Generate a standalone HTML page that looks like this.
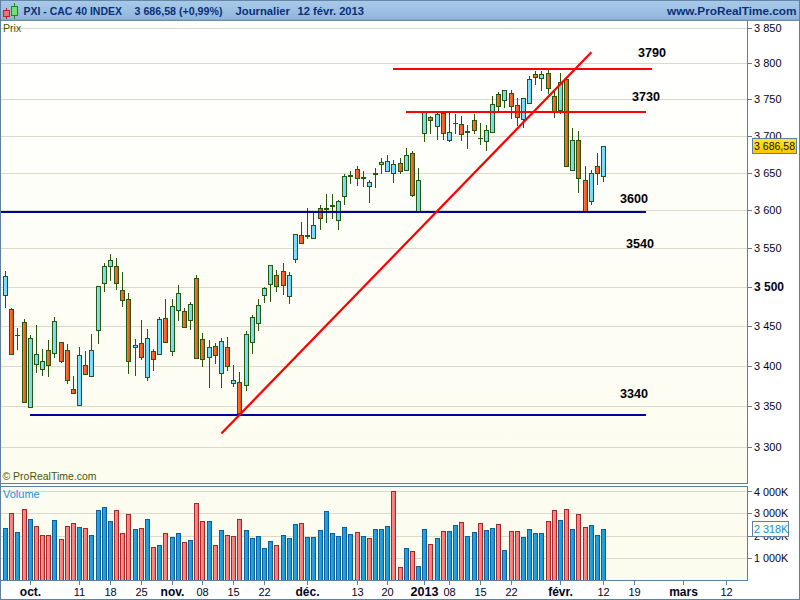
<!DOCTYPE html>
<html><head><meta charset="utf-8"><title>PXI - CAC 40 INDEX</title>
<style>html,body{margin:0;padding:0;background:#fff;overflow:hidden}svg{display:block}</style>
</head><body>
<svg width="800" height="600" viewBox="0 0 800 600" font-family="'Liberation Sans', sans-serif">
<defs>
<linearGradient id="hd" x1="0" y1="0" x2="0" y2="1"><stop offset="0" stop-color="#a9cbea"/><stop offset="0.5" stop-color="#9cc0e2"/><stop offset="1" stop-color="#8db3d8"/></linearGradient>
<linearGradient id="bg" x1="0" y1="0" x2="0" y2="1"><stop offset="0" stop-color="#ffffff"/><stop offset="1" stop-color="#fcfcef"/></linearGradient>
<linearGradient id="vbg" x1="0" y1="0" x2="0" y2="1"><stop offset="0" stop-color="#fcfcf1"/><stop offset="1" stop-color="#fcfcee"/></linearGradient>
<linearGradient id="yl" x1="0" y1="0" x2="0" y2="1"><stop offset="0" stop-color="#ffe630"/><stop offset="1" stop-color="#ffc400"/></linearGradient>
<linearGradient id="rd" x1="0" y1="0" x2="1" y2="0"><stop offset="0" stop-color="#ff7a3e"/><stop offset="1" stop-color="#e64a18"/></linearGradient>
<linearGradient id="bl" x1="0" y1="0" x2="1" y2="0"><stop offset="0" stop-color="#84e2ff"/><stop offset="1" stop-color="#6cd6f6"/></linearGradient>
<linearGradient id="vb" x1="0" y1="0" x2="1" y2="0"><stop offset="0" stop-color="#2aa8e6"/><stop offset="1" stop-color="#1496dc"/></linearGradient>
<linearGradient id="vr" x1="0" y1="0" x2="1" y2="0"><stop offset="0" stop-color="#ff8e8e"/><stop offset="1" stop-color="#f47474"/></linearGradient>
</defs>
<rect width="800" height="600" fill="#ffffff"/>
<g shape-rendering="crispEdges">
<rect x="0" y="0" width="800" height="21" fill="url(#hd)"/>
<rect x="0" y="0" width="800" height="1" fill="#6688a8"/>
<rect x="0" y="19" width="800" height="1" fill="#84a9cf"/>
<rect x="0" y="20" width="800" height="1" fill="#6a8cb0"/>
<rect x="1" y="21" width="746" height="462" fill="url(#bg)"/>
<rect x="1" y="487" width="746" height="93" fill="url(#vbg)"/>
<rect x="1" y="28" width="746" height="1" fill="#dadacb"/>
<rect x="1" y="63" width="746" height="1" fill="#dadacb"/>
<rect x="1" y="99" width="746" height="1" fill="#dadacb"/>
<rect x="1" y="136" width="746" height="1" fill="#dadacb"/>
<rect x="1" y="173" width="746" height="1" fill="#dadacb"/>
<rect x="1" y="210" width="746" height="1" fill="#dadacb"/>
<rect x="1" y="248" width="746" height="1" fill="#dadacb"/>
<rect x="1" y="287" width="746" height="1" fill="#dadacb"/>
<rect x="1" y="326" width="746" height="1" fill="#dadacb"/>
<rect x="1" y="366" width="746" height="1" fill="#dadacb"/>
<rect x="1" y="406" width="746" height="1" fill="#dadacb"/>
<rect x="1" y="447" width="746" height="1" fill="#dadacb"/>
<rect x="1" y="491" width="746" height="1" fill="#dadacb"/>
<rect x="1" y="513" width="746" height="1" fill="#dadacb"/>
<rect x="1" y="536" width="746" height="1" fill="#dadacb"/>
<rect x="1" y="558" width="746" height="1" fill="#dadacb"/>
</g>
<g shape-rendering="crispEdges">
<rect x="5" y="271" width="1" height="37" fill="#25570d"/>
<rect x="3" y="276" width="5" height="20" fill="#25570d"/>
<rect x="4" y="277" width="3" height="18" fill="url(#bl)"/>
<rect x="11" y="308" width="1" height="47" fill="#25570d"/>
<rect x="9" y="309" width="5" height="46" fill="#25570d"/>
<rect x="10" y="310" width="3" height="44" fill="url(#rd)"/>
<rect x="17" y="328" width="1" height="22" fill="#25570d"/>
<rect x="15" y="335" width="5" height="1" fill="#25570d"/>
<rect x="24" y="319" width="1" height="84" fill="#25570d"/>
<rect x="22" y="322" width="5" height="81" fill="#25570d"/>
<rect x="23" y="323" width="3" height="79" fill="url(#rd)"/>
<rect x="30" y="335" width="1" height="73" fill="#25570d"/>
<rect x="28" y="338" width="5" height="70" fill="#25570d"/>
<rect x="29" y="339" width="3" height="68" fill="url(#bl)"/>
<rect x="36" y="325" width="1" height="48" fill="#25570d"/>
<rect x="34" y="354" width="5" height="11" fill="#25570d"/>
<rect x="35" y="355" width="3" height="9" fill="url(#bl)"/>
<rect x="42" y="349" width="1" height="27" fill="#25570d"/>
<rect x="40" y="361" width="5" height="9" fill="#25570d"/>
<rect x="41" y="362" width="3" height="7" fill="url(#bl)"/>
<rect x="48" y="340" width="1" height="37" fill="#25570d"/>
<rect x="46" y="350" width="5" height="16" fill="#25570d"/>
<rect x="47" y="351" width="3" height="14" fill="url(#rd)"/>
<rect x="54" y="317" width="1" height="41" fill="#25570d"/>
<rect x="52" y="321" width="5" height="33" fill="#25570d"/>
<rect x="53" y="322" width="3" height="31" fill="url(#bl)"/>
<rect x="61" y="342" width="1" height="21" fill="#25570d"/>
<rect x="59" y="342" width="5" height="20" fill="#25570d"/>
<rect x="60" y="343" width="3" height="18" fill="url(#rd)"/>
<rect x="67" y="344" width="1" height="40" fill="#25570d"/>
<rect x="65" y="350" width="5" height="31" fill="#25570d"/>
<rect x="66" y="351" width="3" height="29" fill="url(#rd)"/>
<rect x="73" y="376" width="1" height="18" fill="#25570d"/>
<rect x="71" y="389" width="5" height="5" fill="#25570d"/>
<rect x="72" y="390" width="3" height="3" fill="url(#rd)"/>
<rect x="79" y="347" width="1" height="59" fill="#25570d"/>
<rect x="77" y="355" width="5" height="51" fill="#25570d"/>
<rect x="78" y="356" width="3" height="49" fill="url(#bl)"/>
<rect x="85" y="351" width="1" height="24" fill="#25570d"/>
<rect x="83" y="365" width="5" height="10" fill="#25570d"/>
<rect x="84" y="366" width="3" height="8" fill="url(#rd)"/>
<rect x="91" y="334" width="1" height="43" fill="#25570d"/>
<rect x="89" y="350" width="5" height="27" fill="#25570d"/>
<rect x="90" y="351" width="3" height="25" fill="url(#bl)"/>
<rect x="98" y="286" width="1" height="58" fill="#25570d"/>
<rect x="96" y="286" width="5" height="45" fill="#25570d"/>
<rect x="97" y="287" width="3" height="43" fill="url(#bl)"/>
<rect x="104" y="263" width="1" height="29" fill="#25570d"/>
<rect x="102" y="266" width="5" height="18" fill="#25570d"/>
<rect x="103" y="267" width="3" height="16" fill="url(#bl)"/>
<rect x="110" y="254" width="1" height="27" fill="#25570d"/>
<rect x="108" y="260" width="5" height="7" fill="#25570d"/>
<rect x="109" y="261" width="3" height="5" fill="url(#bl)"/>
<rect x="116" y="258" width="1" height="32" fill="#25570d"/>
<rect x="114" y="266" width="5" height="18" fill="#25570d"/>
<rect x="115" y="267" width="3" height="16" fill="url(#rd)"/>
<rect x="122" y="272" width="1" height="35" fill="#25570d"/>
<rect x="120" y="290" width="5" height="11" fill="#25570d"/>
<rect x="121" y="291" width="3" height="9" fill="url(#rd)"/>
<rect x="128" y="293" width="1" height="81" fill="#25570d"/>
<rect x="126" y="299" width="5" height="63" fill="#25570d"/>
<rect x="127" y="300" width="3" height="61" fill="url(#rd)"/>
<rect x="135" y="339" width="1" height="37" fill="#25570d"/>
<rect x="133" y="345" width="5" height="3" fill="#25570d"/>
<rect x="134" y="346" width="3" height="1" fill="url(#bl)"/>
<rect x="141" y="320" width="1" height="40" fill="#25570d"/>
<rect x="139" y="343" width="5" height="15" fill="#25570d"/>
<rect x="140" y="344" width="3" height="13" fill="url(#rd)"/>
<rect x="147" y="329" width="1" height="52" fill="#25570d"/>
<rect x="145" y="338" width="5" height="40" fill="#25570d"/>
<rect x="146" y="339" width="3" height="38" fill="url(#bl)"/>
<rect x="153" y="349" width="1" height="22" fill="#25570d"/>
<rect x="151" y="351" width="5" height="9" fill="#25570d"/>
<rect x="152" y="352" width="3" height="7" fill="url(#rd)"/>
<rect x="159" y="317" width="1" height="38" fill="#25570d"/>
<rect x="157" y="319" width="5" height="36" fill="#25570d"/>
<rect x="158" y="320" width="3" height="34" fill="url(#bl)"/>
<rect x="165" y="299" width="1" height="44" fill="#25570d"/>
<rect x="163" y="318" width="5" height="25" fill="#25570d"/>
<rect x="164" y="319" width="3" height="23" fill="url(#rd)"/>
<rect x="172" y="299" width="1" height="57" fill="#25570d"/>
<rect x="170" y="306" width="5" height="46" fill="#25570d"/>
<rect x="171" y="307" width="3" height="44" fill="url(#bl)"/>
<rect x="178" y="285" width="1" height="36" fill="#25570d"/>
<rect x="176" y="293" width="5" height="18" fill="#25570d"/>
<rect x="177" y="294" width="3" height="16" fill="url(#bl)"/>
<rect x="184" y="308" width="1" height="20" fill="#25570d"/>
<rect x="182" y="311" width="5" height="17" fill="#25570d"/>
<rect x="183" y="312" width="3" height="15" fill="url(#rd)"/>
<rect x="190" y="302" width="1" height="28" fill="#25570d"/>
<rect x="188" y="304" width="5" height="17" fill="#25570d"/>
<rect x="189" y="305" width="3" height="15" fill="url(#bl)"/>
<rect x="196" y="275" width="1" height="84" fill="#25570d"/>
<rect x="194" y="278" width="5" height="81" fill="#25570d"/>
<rect x="195" y="279" width="3" height="79" fill="url(#rd)"/>
<rect x="202" y="333" width="1" height="34" fill="#25570d"/>
<rect x="200" y="339" width="5" height="21" fill="#25570d"/>
<rect x="201" y="340" width="3" height="19" fill="url(#rd)"/>
<rect x="209" y="340" width="1" height="48" fill="#25570d"/>
<rect x="207" y="347" width="5" height="11" fill="#25570d"/>
<rect x="208" y="348" width="3" height="9" fill="url(#bl)"/>
<rect x="215" y="343" width="1" height="21" fill="#25570d"/>
<rect x="213" y="346" width="5" height="10" fill="#25570d"/>
<rect x="214" y="347" width="3" height="8" fill="url(#rd)"/>
<rect x="221" y="338" width="1" height="50" fill="#25570d"/>
<rect x="219" y="341" width="5" height="33" fill="#25570d"/>
<rect x="220" y="342" width="3" height="31" fill="url(#bl)"/>
<rect x="227" y="337" width="1" height="34" fill="#25570d"/>
<rect x="225" y="347" width="5" height="20" fill="#25570d"/>
<rect x="226" y="348" width="3" height="18" fill="url(#rd)"/>
<rect x="233" y="365" width="1" height="22" fill="#25570d"/>
<rect x="231" y="380" width="5" height="4" fill="#25570d"/>
<rect x="232" y="381" width="3" height="2" fill="url(#bl)"/>
<rect x="239" y="372" width="1" height="42" fill="#25570d"/>
<rect x="237" y="382" width="5" height="32" fill="#25570d"/>
<rect x="238" y="383" width="3" height="30" fill="url(#rd)"/>
<rect x="246" y="331" width="1" height="60" fill="#25570d"/>
<rect x="244" y="334" width="5" height="52" fill="#25570d"/>
<rect x="245" y="335" width="3" height="50" fill="url(#bl)"/>
<rect x="252" y="315" width="1" height="39" fill="#25570d"/>
<rect x="250" y="317" width="5" height="26" fill="#25570d"/>
<rect x="251" y="318" width="3" height="24" fill="url(#bl)"/>
<rect x="258" y="299" width="1" height="32" fill="#25570d"/>
<rect x="256" y="305" width="5" height="19" fill="#25570d"/>
<rect x="257" y="306" width="3" height="17" fill="url(#bl)"/>
<rect x="264" y="287" width="1" height="16" fill="#25570d"/>
<rect x="262" y="288" width="5" height="8" fill="#25570d"/>
<rect x="263" y="289" width="3" height="6" fill="url(#bl)"/>
<rect x="270" y="265" width="1" height="37" fill="#25570d"/>
<rect x="268" y="265" width="5" height="20" fill="#25570d"/>
<rect x="269" y="266" width="3" height="18" fill="url(#bl)"/>
<rect x="276" y="270" width="1" height="22" fill="#25570d"/>
<rect x="274" y="275" width="5" height="12" fill="#25570d"/>
<rect x="275" y="276" width="3" height="10" fill="url(#rd)"/>
<rect x="283" y="263" width="1" height="32" fill="#25570d"/>
<rect x="281" y="271" width="5" height="15" fill="#25570d"/>
<rect x="282" y="272" width="3" height="13" fill="url(#rd)"/>
<rect x="289" y="272" width="1" height="32" fill="#25570d"/>
<rect x="287" y="275" width="5" height="22" fill="#25570d"/>
<rect x="288" y="276" width="3" height="20" fill="url(#bl)"/>
<rect x="295" y="234" width="1" height="29" fill="#25570d"/>
<rect x="293" y="234" width="5" height="26" fill="#25570d"/>
<rect x="294" y="235" width="3" height="24" fill="url(#bl)"/>
<rect x="301" y="222" width="1" height="22" fill="#25570d"/>
<rect x="299" y="235" width="5" height="9" fill="#25570d"/>
<rect x="300" y="236" width="3" height="7" fill="url(#rd)"/>
<rect x="307" y="208" width="1" height="31" fill="#25570d"/>
<rect x="305" y="235" width="5" height="2" fill="#25570d"/>
<rect x="313" y="212" width="1" height="27" fill="#25570d"/>
<rect x="311" y="225" width="5" height="14" fill="#25570d"/>
<rect x="312" y="226" width="3" height="12" fill="url(#bl)"/>
<rect x="320" y="205" width="1" height="25" fill="#25570d"/>
<rect x="318" y="208" width="5" height="11" fill="#25570d"/>
<rect x="319" y="209" width="3" height="9" fill="url(#rd)"/>
<rect x="326" y="194" width="1" height="29" fill="#25570d"/>
<rect x="324" y="208" width="5" height="2" fill="#25570d"/>
<rect x="332" y="194" width="1" height="25" fill="#25570d"/>
<rect x="330" y="205" width="5" height="2" fill="#25570d"/>
<rect x="338" y="200" width="1" height="30" fill="#25570d"/>
<rect x="336" y="201" width="5" height="20" fill="#25570d"/>
<rect x="337" y="202" width="3" height="18" fill="url(#bl)"/>
<rect x="344" y="174" width="1" height="31" fill="#25570d"/>
<rect x="342" y="176" width="5" height="21" fill="#25570d"/>
<rect x="343" y="177" width="3" height="19" fill="url(#bl)"/>
<rect x="350" y="171" width="1" height="13" fill="#25570d"/>
<rect x="348" y="175" width="5" height="2" fill="#25570d"/>
<rect x="357" y="166" width="1" height="20" fill="#25570d"/>
<rect x="355" y="169" width="5" height="10" fill="#25570d"/>
<rect x="356" y="170" width="3" height="8" fill="url(#rd)"/>
<rect x="363" y="171" width="1" height="16" fill="#25570d"/>
<rect x="361" y="177" width="5" height="2" fill="#25570d"/>
<rect x="369" y="180" width="1" height="23" fill="#25570d"/>
<rect x="367" y="182" width="5" height="5" fill="#25570d"/>
<rect x="368" y="183" width="3" height="3" fill="url(#bl)"/>
<rect x="375" y="168" width="1" height="20" fill="#25570d"/>
<rect x="373" y="173" width="5" height="2" fill="#25570d"/>
<rect x="381" y="158" width="1" height="16" fill="#25570d"/>
<rect x="379" y="162" width="5" height="3" fill="#25570d"/>
<rect x="380" y="163" width="3" height="1" fill="url(#bl)"/>
<rect x="387" y="155" width="1" height="17" fill="#25570d"/>
<rect x="385" y="161" width="5" height="11" fill="#25570d"/>
<rect x="386" y="162" width="3" height="9" fill="url(#bl)"/>
<rect x="393" y="160" width="1" height="23" fill="#25570d"/>
<rect x="391" y="164" width="5" height="10" fill="#25570d"/>
<rect x="392" y="165" width="3" height="8" fill="url(#bl)"/>
<rect x="400" y="158" width="1" height="16" fill="#25570d"/>
<rect x="398" y="163" width="5" height="9" fill="#25570d"/>
<rect x="399" y="164" width="3" height="7" fill="url(#rd)"/>
<rect x="406" y="148" width="1" height="23" fill="#25570d"/>
<rect x="404" y="155" width="5" height="16" fill="#25570d"/>
<rect x="405" y="156" width="3" height="14" fill="url(#bl)"/>
<rect x="412" y="151" width="1" height="46" fill="#25570d"/>
<rect x="410" y="153" width="5" height="43" fill="#25570d"/>
<rect x="411" y="154" width="3" height="41" fill="url(#rd)"/>
<rect x="418" y="168" width="1" height="44" fill="#25570d"/>
<rect x="416" y="180" width="5" height="32" fill="#25570d"/>
<rect x="417" y="181" width="3" height="30" fill="url(#bl)"/>
<rect x="424" y="111" width="1" height="31" fill="#25570d"/>
<rect x="422" y="111" width="5" height="23" fill="#25570d"/>
<rect x="423" y="112" width="3" height="21" fill="url(#bl)"/>
<rect x="430" y="116" width="1" height="18" fill="#25570d"/>
<rect x="428" y="117" width="5" height="4" fill="#25570d"/>
<rect x="429" y="118" width="3" height="2" fill="url(#rd)"/>
<rect x="437" y="113" width="1" height="27" fill="#25570d"/>
<rect x="435" y="114" width="5" height="13" fill="#25570d"/>
<rect x="436" y="115" width="3" height="11" fill="url(#bl)"/>
<rect x="443" y="113" width="1" height="27" fill="#25570d"/>
<rect x="441" y="113" width="5" height="21" fill="#25570d"/>
<rect x="442" y="114" width="3" height="19" fill="url(#rd)"/>
<rect x="449" y="113" width="1" height="29" fill="#25570d"/>
<rect x="447" y="132" width="5" height="9" fill="#25570d"/>
<rect x="448" y="133" width="3" height="7" fill="url(#bl)"/>
<rect x="455" y="114" width="1" height="20" fill="#25570d"/>
<rect x="453" y="123" width="5" height="1" fill="#25570d"/>
<rect x="461" y="116" width="1" height="25" fill="#25570d"/>
<rect x="459" y="124" width="5" height="11" fill="#25570d"/>
<rect x="460" y="125" width="3" height="9" fill="url(#rd)"/>
<rect x="467" y="125" width="1" height="24" fill="#25570d"/>
<rect x="465" y="131" width="5" height="2" fill="#25570d"/>
<rect x="474" y="114" width="1" height="20" fill="#25570d"/>
<rect x="472" y="120" width="5" height="11" fill="#25570d"/>
<rect x="473" y="121" width="3" height="9" fill="url(#rd)"/>
<rect x="480" y="123" width="1" height="22" fill="#25570d"/>
<rect x="478" y="138" width="5" height="1" fill="#25570d"/>
<rect x="486" y="125" width="1" height="26" fill="#25570d"/>
<rect x="484" y="130" width="5" height="12" fill="#25570d"/>
<rect x="485" y="131" width="3" height="10" fill="url(#bl)"/>
<rect x="492" y="96" width="1" height="37" fill="#25570d"/>
<rect x="490" y="104" width="5" height="29" fill="#25570d"/>
<rect x="491" y="105" width="3" height="27" fill="url(#bl)"/>
<rect x="498" y="92" width="1" height="19" fill="#25570d"/>
<rect x="496" y="94" width="5" height="13" fill="#25570d"/>
<rect x="497" y="95" width="3" height="11" fill="url(#rd)"/>
<rect x="504" y="90" width="1" height="18" fill="#25570d"/>
<rect x="502" y="90" width="5" height="11" fill="#25570d"/>
<rect x="503" y="91" width="3" height="9" fill="url(#bl)"/>
<rect x="511" y="90" width="1" height="29" fill="#25570d"/>
<rect x="509" y="93" width="5" height="14" fill="#25570d"/>
<rect x="510" y="94" width="3" height="12" fill="url(#rd)"/>
<rect x="517" y="98" width="1" height="28" fill="#25570d"/>
<rect x="515" y="105" width="5" height="13" fill="#25570d"/>
<rect x="516" y="106" width="3" height="11" fill="url(#rd)"/>
<rect x="523" y="98" width="1" height="30" fill="#25570d"/>
<rect x="521" y="98" width="5" height="22" fill="#25570d"/>
<rect x="522" y="99" width="3" height="20" fill="url(#bl)"/>
<rect x="529" y="76" width="1" height="28" fill="#25570d"/>
<rect x="527" y="79" width="5" height="25" fill="#25570d"/>
<rect x="528" y="80" width="3" height="23" fill="url(#bl)"/>
<rect x="535" y="71" width="1" height="14" fill="#25570d"/>
<rect x="533" y="74" width="5" height="4" fill="#25570d"/>
<rect x="534" y="75" width="3" height="2" fill="url(#rd)"/>
<rect x="541" y="71" width="1" height="20" fill="#25570d"/>
<rect x="539" y="74" width="5" height="5" fill="#25570d"/>
<rect x="540" y="75" width="3" height="3" fill="url(#bl)"/>
<rect x="548" y="70" width="1" height="24" fill="#25570d"/>
<rect x="546" y="73" width="5" height="16" fill="#25570d"/>
<rect x="547" y="74" width="3" height="14" fill="url(#rd)"/>
<rect x="554" y="91" width="1" height="27" fill="#25570d"/>
<rect x="552" y="96" width="5" height="16" fill="#25570d"/>
<rect x="553" y="97" width="3" height="14" fill="url(#rd)"/>
<rect x="560" y="73" width="1" height="41" fill="#25570d"/>
<rect x="558" y="82" width="5" height="29" fill="#25570d"/>
<rect x="559" y="83" width="3" height="27" fill="url(#bl)"/>
<rect x="566" y="79" width="1" height="88" fill="#25570d"/>
<rect x="564" y="79" width="5" height="88" fill="#25570d"/>
<rect x="565" y="80" width="3" height="86" fill="url(#rd)"/>
<rect x="572" y="128" width="1" height="43" fill="#25570d"/>
<rect x="570" y="140" width="5" height="31" fill="#25570d"/>
<rect x="571" y="141" width="3" height="29" fill="url(#bl)"/>
<rect x="578" y="131" width="1" height="62" fill="#25570d"/>
<rect x="576" y="140" width="5" height="39" fill="#25570d"/>
<rect x="577" y="141" width="3" height="37" fill="url(#rd)"/>
<rect x="585" y="166" width="1" height="46" fill="#25570d"/>
<rect x="583" y="180" width="5" height="32" fill="#25570d"/>
<rect x="584" y="181" width="3" height="30" fill="url(#rd)"/>
<rect x="591" y="170" width="1" height="35" fill="#25570d"/>
<rect x="589" y="173" width="5" height="29" fill="#25570d"/>
<rect x="590" y="174" width="3" height="27" fill="url(#bl)"/>
<rect x="597" y="153" width="1" height="32" fill="#25570d"/>
<rect x="595" y="166" width="5" height="8" fill="#25570d"/>
<rect x="596" y="167" width="3" height="6" fill="url(#rd)"/>
<rect x="603" y="146" width="1" height="36" fill="#25570d"/>
<rect x="601" y="146" width="5" height="31" fill="#25570d"/>
<rect x="602" y="147" width="3" height="29" fill="url(#bl)"/>
<rect x="3" y="528" width="5" height="52" fill="#0d5f96"/>
<rect x="4" y="529" width="3" height="51" fill="url(#vb)"/>
<rect x="9" y="513" width="5" height="67" fill="#a32828"/>
<rect x="10" y="514" width="3" height="66" fill="url(#vr)"/>
<rect x="15" y="532" width="5" height="48" fill="#0d5f96"/>
<rect x="16" y="533" width="3" height="47" fill="url(#vb)"/>
<rect x="22" y="509" width="5" height="71" fill="#a32828"/>
<rect x="23" y="510" width="3" height="70" fill="url(#vr)"/>
<rect x="28" y="519" width="5" height="61" fill="#0d5f96"/>
<rect x="29" y="520" width="3" height="60" fill="url(#vb)"/>
<rect x="34" y="526" width="5" height="54" fill="#a32828"/>
<rect x="35" y="527" width="3" height="53" fill="url(#vr)"/>
<rect x="40" y="535" width="5" height="45" fill="#a32828"/>
<rect x="41" y="536" width="3" height="44" fill="url(#vr)"/>
<rect x="46" y="535" width="5" height="45" fill="#a32828"/>
<rect x="47" y="536" width="3" height="44" fill="url(#vr)"/>
<rect x="52" y="520" width="5" height="60" fill="#0d5f96"/>
<rect x="53" y="521" width="3" height="59" fill="url(#vb)"/>
<rect x="59" y="539" width="5" height="41" fill="#a32828"/>
<rect x="60" y="540" width="3" height="40" fill="url(#vr)"/>
<rect x="65" y="526" width="5" height="54" fill="#a32828"/>
<rect x="66" y="527" width="3" height="53" fill="url(#vr)"/>
<rect x="71" y="523" width="5" height="57" fill="#a32828"/>
<rect x="72" y="524" width="3" height="56" fill="url(#vr)"/>
<rect x="77" y="527" width="5" height="53" fill="#0d5f96"/>
<rect x="78" y="528" width="3" height="52" fill="url(#vb)"/>
<rect x="83" y="528" width="5" height="52" fill="#a32828"/>
<rect x="84" y="529" width="3" height="51" fill="url(#vr)"/>
<rect x="89" y="535" width="5" height="45" fill="#0d5f96"/>
<rect x="90" y="536" width="3" height="44" fill="url(#vb)"/>
<rect x="96" y="510" width="5" height="70" fill="#0d5f96"/>
<rect x="97" y="511" width="3" height="69" fill="url(#vb)"/>
<rect x="102" y="507" width="5" height="73" fill="#0d5f96"/>
<rect x="103" y="508" width="3" height="72" fill="url(#vb)"/>
<rect x="108" y="521" width="5" height="59" fill="#0d5f96"/>
<rect x="109" y="522" width="3" height="58" fill="url(#vb)"/>
<rect x="114" y="510" width="5" height="70" fill="#a32828"/>
<rect x="115" y="511" width="3" height="69" fill="url(#vr)"/>
<rect x="120" y="533" width="5" height="47" fill="#a32828"/>
<rect x="121" y="534" width="3" height="46" fill="url(#vr)"/>
<rect x="126" y="514" width="5" height="66" fill="#a32828"/>
<rect x="127" y="515" width="3" height="65" fill="url(#vr)"/>
<rect x="133" y="529" width="5" height="51" fill="#0d5f96"/>
<rect x="134" y="530" width="3" height="50" fill="url(#vb)"/>
<rect x="139" y="528" width="5" height="52" fill="#a32828"/>
<rect x="140" y="529" width="3" height="51" fill="url(#vr)"/>
<rect x="145" y="519" width="5" height="61" fill="#0d5f96"/>
<rect x="146" y="520" width="3" height="60" fill="url(#vb)"/>
<rect x="151" y="547" width="5" height="33" fill="#a32828"/>
<rect x="152" y="548" width="3" height="32" fill="url(#vr)"/>
<rect x="157" y="545" width="5" height="35" fill="#0d5f96"/>
<rect x="158" y="546" width="3" height="34" fill="url(#vb)"/>
<rect x="163" y="533" width="5" height="47" fill="#a32828"/>
<rect x="164" y="534" width="3" height="46" fill="url(#vr)"/>
<rect x="170" y="537" width="5" height="43" fill="#0d5f96"/>
<rect x="171" y="538" width="3" height="42" fill="url(#vb)"/>
<rect x="176" y="533" width="5" height="47" fill="#0d5f96"/>
<rect x="177" y="534" width="3" height="46" fill="url(#vb)"/>
<rect x="182" y="542" width="5" height="38" fill="#a32828"/>
<rect x="183" y="543" width="3" height="37" fill="url(#vr)"/>
<rect x="188" y="540" width="5" height="40" fill="#0d5f96"/>
<rect x="189" y="541" width="3" height="39" fill="url(#vb)"/>
<rect x="194" y="503" width="5" height="77" fill="#a32828"/>
<rect x="195" y="504" width="3" height="76" fill="url(#vr)"/>
<rect x="200" y="521" width="5" height="59" fill="#a32828"/>
<rect x="201" y="522" width="3" height="58" fill="url(#vr)"/>
<rect x="207" y="521" width="5" height="59" fill="#0d5f96"/>
<rect x="208" y="522" width="3" height="58" fill="url(#vb)"/>
<rect x="213" y="545" width="5" height="35" fill="#a32828"/>
<rect x="214" y="546" width="3" height="34" fill="url(#vr)"/>
<rect x="219" y="530" width="5" height="50" fill="#0d5f96"/>
<rect x="220" y="531" width="3" height="49" fill="url(#vb)"/>
<rect x="225" y="535" width="5" height="45" fill="#a32828"/>
<rect x="226" y="536" width="3" height="44" fill="url(#vr)"/>
<rect x="231" y="536" width="5" height="44" fill="#a32828"/>
<rect x="232" y="537" width="3" height="43" fill="url(#vr)"/>
<rect x="237" y="519" width="5" height="61" fill="#a32828"/>
<rect x="238" y="520" width="3" height="60" fill="url(#vr)"/>
<rect x="244" y="530" width="5" height="50" fill="#0d5f96"/>
<rect x="245" y="531" width="3" height="49" fill="url(#vb)"/>
<rect x="250" y="538" width="5" height="42" fill="#0d5f96"/>
<rect x="251" y="539" width="3" height="41" fill="url(#vb)"/>
<rect x="256" y="536" width="5" height="44" fill="#0d5f96"/>
<rect x="257" y="537" width="3" height="43" fill="url(#vb)"/>
<rect x="262" y="548" width="5" height="32" fill="#0d5f96"/>
<rect x="263" y="549" width="3" height="31" fill="url(#vb)"/>
<rect x="268" y="541" width="5" height="39" fill="#0d5f96"/>
<rect x="269" y="542" width="3" height="38" fill="url(#vb)"/>
<rect x="274" y="545" width="5" height="35" fill="#a32828"/>
<rect x="275" y="546" width="3" height="34" fill="url(#vr)"/>
<rect x="281" y="535" width="5" height="45" fill="#0d5f96"/>
<rect x="282" y="536" width="3" height="44" fill="url(#vb)"/>
<rect x="287" y="538" width="5" height="42" fill="#0d5f96"/>
<rect x="288" y="539" width="3" height="41" fill="url(#vb)"/>
<rect x="293" y="524" width="5" height="56" fill="#0d5f96"/>
<rect x="294" y="525" width="3" height="55" fill="url(#vb)"/>
<rect x="299" y="523" width="5" height="57" fill="#a32828"/>
<rect x="300" y="524" width="3" height="56" fill="url(#vr)"/>
<rect x="305" y="537" width="5" height="43" fill="#0d5f96"/>
<rect x="306" y="538" width="3" height="42" fill="url(#vb)"/>
<rect x="311" y="537" width="5" height="43" fill="#0d5f96"/>
<rect x="312" y="538" width="3" height="42" fill="url(#vb)"/>
<rect x="318" y="530" width="5" height="50" fill="#0d5f96"/>
<rect x="319" y="531" width="3" height="49" fill="url(#vb)"/>
<rect x="324" y="511" width="5" height="69" fill="#0d5f96"/>
<rect x="325" y="512" width="3" height="68" fill="url(#vb)"/>
<rect x="330" y="533" width="5" height="47" fill="#0d5f96"/>
<rect x="331" y="534" width="3" height="46" fill="url(#vb)"/>
<rect x="336" y="536" width="5" height="44" fill="#0d5f96"/>
<rect x="337" y="537" width="3" height="43" fill="url(#vb)"/>
<rect x="342" y="527" width="5" height="53" fill="#0d5f96"/>
<rect x="343" y="528" width="3" height="52" fill="url(#vb)"/>
<rect x="348" y="534" width="5" height="46" fill="#0d5f96"/>
<rect x="349" y="535" width="3" height="45" fill="url(#vb)"/>
<rect x="355" y="532" width="5" height="48" fill="#a32828"/>
<rect x="356" y="533" width="3" height="47" fill="url(#vr)"/>
<rect x="361" y="536" width="5" height="44" fill="#0d5f96"/>
<rect x="362" y="537" width="3" height="43" fill="url(#vb)"/>
<rect x="367" y="538" width="5" height="42" fill="#a32828"/>
<rect x="368" y="539" width="3" height="41" fill="url(#vr)"/>
<rect x="373" y="529" width="5" height="51" fill="#0d5f96"/>
<rect x="374" y="530" width="3" height="50" fill="url(#vb)"/>
<rect x="379" y="529" width="5" height="51" fill="#0d5f96"/>
<rect x="380" y="530" width="3" height="50" fill="url(#vb)"/>
<rect x="385" y="526" width="5" height="54" fill="#0d5f96"/>
<rect x="386" y="527" width="3" height="53" fill="url(#vb)"/>
<rect x="391" y="491" width="5" height="89" fill="#a32828"/>
<rect x="392" y="492" width="3" height="88" fill="url(#vr)"/>
<rect x="398" y="567" width="5" height="13" fill="#a32828"/>
<rect x="399" y="568" width="3" height="12" fill="url(#vr)"/>
<rect x="404" y="548" width="5" height="32" fill="#0d5f96"/>
<rect x="405" y="549" width="3" height="31" fill="url(#vb)"/>
<rect x="410" y="551" width="5" height="29" fill="#a32828"/>
<rect x="411" y="552" width="3" height="28" fill="url(#vr)"/>
<rect x="416" y="566" width="5" height="14" fill="#0d5f96"/>
<rect x="417" y="567" width="3" height="13" fill="url(#vb)"/>
<rect x="422" y="529" width="5" height="51" fill="#0d5f96"/>
<rect x="423" y="530" width="3" height="50" fill="url(#vb)"/>
<rect x="428" y="544" width="5" height="36" fill="#a32828"/>
<rect x="429" y="545" width="3" height="35" fill="url(#vr)"/>
<rect x="435" y="538" width="5" height="42" fill="#0d5f96"/>
<rect x="436" y="539" width="3" height="41" fill="url(#vb)"/>
<rect x="441" y="531" width="5" height="49" fill="#a32828"/>
<rect x="442" y="532" width="3" height="48" fill="url(#vr)"/>
<rect x="447" y="531" width="5" height="49" fill="#0d5f96"/>
<rect x="448" y="532" width="3" height="48" fill="url(#vb)"/>
<rect x="453" y="525" width="5" height="55" fill="#0d5f96"/>
<rect x="454" y="526" width="3" height="54" fill="url(#vb)"/>
<rect x="459" y="522" width="5" height="58" fill="#a32828"/>
<rect x="460" y="523" width="3" height="57" fill="url(#vr)"/>
<rect x="465" y="536" width="5" height="44" fill="#0d5f96"/>
<rect x="466" y="537" width="3" height="43" fill="url(#vb)"/>
<rect x="472" y="532" width="5" height="48" fill="#0d5f96"/>
<rect x="473" y="533" width="3" height="47" fill="url(#vb)"/>
<rect x="478" y="523" width="5" height="57" fill="#a32828"/>
<rect x="479" y="524" width="3" height="56" fill="url(#vr)"/>
<rect x="484" y="530" width="5" height="50" fill="#0d5f96"/>
<rect x="485" y="531" width="3" height="49" fill="url(#vb)"/>
<rect x="490" y="528" width="5" height="52" fill="#0d5f96"/>
<rect x="491" y="529" width="3" height="51" fill="url(#vb)"/>
<rect x="496" y="524" width="5" height="56" fill="#a32828"/>
<rect x="497" y="525" width="3" height="55" fill="url(#vr)"/>
<rect x="502" y="550" width="5" height="30" fill="#0d5f96"/>
<rect x="503" y="551" width="3" height="29" fill="url(#vb)"/>
<rect x="509" y="531" width="5" height="49" fill="#a32828"/>
<rect x="510" y="532" width="3" height="48" fill="url(#vr)"/>
<rect x="515" y="531" width="5" height="49" fill="#a32828"/>
<rect x="516" y="532" width="3" height="48" fill="url(#vr)"/>
<rect x="521" y="537" width="5" height="43" fill="#0d5f96"/>
<rect x="522" y="538" width="3" height="42" fill="url(#vb)"/>
<rect x="527" y="529" width="5" height="51" fill="#0d5f96"/>
<rect x="528" y="530" width="3" height="50" fill="url(#vb)"/>
<rect x="533" y="533" width="5" height="47" fill="#0d5f96"/>
<rect x="534" y="534" width="3" height="46" fill="url(#vb)"/>
<rect x="539" y="533" width="5" height="47" fill="#0d5f96"/>
<rect x="540" y="534" width="3" height="46" fill="url(#vb)"/>
<rect x="546" y="521" width="5" height="59" fill="#a32828"/>
<rect x="547" y="522" width="3" height="58" fill="url(#vr)"/>
<rect x="552" y="510" width="5" height="70" fill="#a32828"/>
<rect x="553" y="511" width="3" height="69" fill="url(#vr)"/>
<rect x="558" y="520" width="5" height="60" fill="#0d5f96"/>
<rect x="559" y="521" width="3" height="59" fill="url(#vb)"/>
<rect x="564" y="509" width="5" height="71" fill="#a32828"/>
<rect x="565" y="510" width="3" height="70" fill="url(#vr)"/>
<rect x="570" y="529" width="5" height="51" fill="#0d5f96"/>
<rect x="571" y="530" width="3" height="50" fill="url(#vb)"/>
<rect x="576" y="514" width="5" height="66" fill="#a32828"/>
<rect x="577" y="515" width="3" height="65" fill="url(#vr)"/>
<rect x="583" y="527" width="5" height="53" fill="#a32828"/>
<rect x="584" y="528" width="3" height="52" fill="url(#vr)"/>
<rect x="589" y="525" width="5" height="55" fill="#0d5f96"/>
<rect x="590" y="526" width="3" height="54" fill="url(#vb)"/>
<rect x="595" y="535" width="5" height="45" fill="#0d5f96"/>
<rect x="596" y="536" width="3" height="44" fill="url(#vb)"/>
<rect x="601" y="529" width="5" height="51" fill="#0d5f96"/>
<rect x="602" y="530" width="3" height="50" fill="url(#vb)"/>
</g>
<g shape-rendering="crispEdges">
<rect x="393" y="68" width="259" height="2" fill="#ff0000"/>
<rect x="406" y="111" width="240" height="2" fill="#ff0000"/>
<rect x="1" y="211" width="645" height="2" fill="#00009c"/>
<rect x="30" y="414" width="616" height="2" fill="#00009c"/>
</g>
<line x1="221.4" y1="433.5" x2="591.4" y2="52.2" stroke="#ff0000" stroke-width="2.2"/>
<g shape-rendering="crispEdges">
<rect x="0" y="0" width="1" height="600" fill="#5f7f9f"/>
<rect x="1" y="483" width="747" height="1" fill="#5f7f9f"/>
<rect x="1" y="486" width="747" height="1" fill="#5f7f9f"/>
<rect x="1" y="580" width="747" height="1" fill="#5f7f9f"/>
<rect x="747" y="21" width="1" height="463" fill="#5f7f9f"/>
<rect x="747" y="486" width="1" height="95" fill="#5f7f9f"/>
<rect x="0" y="599" width="800" height="1" fill="#5f7f9f"/>
<rect x="799" y="0" width="1" height="600" fill="#5f7f9f"/>
<rect x="748" y="28" width="4" height="1" fill="#5f7f9f"/>
<rect x="748" y="63" width="4" height="1" fill="#5f7f9f"/>
<rect x="748" y="99" width="4" height="1" fill="#5f7f9f"/>
<rect x="748" y="136" width="4" height="1" fill="#5f7f9f"/>
<rect x="748" y="173" width="4" height="1" fill="#5f7f9f"/>
<rect x="748" y="210" width="4" height="1" fill="#5f7f9f"/>
<rect x="748" y="248" width="4" height="1" fill="#5f7f9f"/>
<rect x="748" y="287" width="4" height="1" fill="#5f7f9f"/>
<rect x="748" y="326" width="4" height="1" fill="#5f7f9f"/>
<rect x="748" y="366" width="4" height="1" fill="#5f7f9f"/>
<rect x="748" y="406" width="4" height="1" fill="#5f7f9f"/>
<rect x="748" y="447" width="4" height="1" fill="#5f7f9f"/>
<rect x="748" y="491" width="4" height="1" fill="#5f7f9f"/>
<rect x="748" y="513" width="4" height="1" fill="#5f7f9f"/>
<rect x="748" y="536" width="4" height="1" fill="#5f7f9f"/>
<rect x="748" y="558" width="4" height="1" fill="#5f7f9f"/>
<rect x="30" y="581" width="1" height="4" fill="#5f7f9f"/>
<rect x="79" y="581" width="1" height="4" fill="#5f7f9f"/>
<rect x="110" y="581" width="1" height="4" fill="#5f7f9f"/>
<rect x="141" y="581" width="1" height="4" fill="#5f7f9f"/>
<rect x="172" y="581" width="1" height="4" fill="#5f7f9f"/>
<rect x="202" y="581" width="1" height="4" fill="#5f7f9f"/>
<rect x="233" y="581" width="1" height="4" fill="#5f7f9f"/>
<rect x="264" y="581" width="1" height="4" fill="#5f7f9f"/>
<rect x="307" y="581" width="1" height="4" fill="#5f7f9f"/>
<rect x="357" y="581" width="1" height="4" fill="#5f7f9f"/>
<rect x="387" y="581" width="1" height="4" fill="#5f7f9f"/>
<rect x="424" y="581" width="1" height="4" fill="#5f7f9f"/>
<rect x="449" y="581" width="1" height="4" fill="#5f7f9f"/>
<rect x="480" y="581" width="1" height="4" fill="#5f7f9f"/>
<rect x="511" y="581" width="1" height="4" fill="#5f7f9f"/>
<rect x="560" y="581" width="1" height="4" fill="#5f7f9f"/>
<rect x="603" y="581" width="1" height="4" fill="#5f7f9f"/>
<rect x="634" y="581" width="1" height="4" fill="#5f7f9f"/>
<rect x="683" y="581" width="1" height="4" fill="#5f7f9f"/>
<rect x="726" y="581" width="1" height="4" fill="#5f7f9f"/>
</g>
<text x="754" y="31.8" font-size="11" fill="#04041c">3 850</text>
<text x="754" y="66.8" font-size="11" fill="#04041c">3 800</text>
<text x="754" y="102.8" font-size="11" fill="#04041c">3 750</text>
<text x="754" y="139.8" font-size="11" fill="#04041c">3 700</text>
<text x="754" y="176.8" font-size="11" fill="#04041c">3 650</text>
<text x="754" y="213.8" font-size="11" fill="#04041c">3 600</text>
<text x="754" y="251.8" font-size="11" fill="#04041c">3 550</text>
<text x="754" y="291.3" font-size="12" font-weight="bold" fill="#04041c">3 500</text>
<text x="754" y="329.8" font-size="11" fill="#04041c">3 450</text>
<text x="754" y="369.8" font-size="11" fill="#04041c">3 400</text>
<text x="754" y="409.8" font-size="11" fill="#04041c">3 350</text>
<text x="754" y="450.8" font-size="11" fill="#04041c">3 300</text>
<text x="754" y="496" font-size="11" fill="#04041c" textLength="34.2" lengthAdjust="spacingAndGlyphs">4 000K</text>
<text x="754" y="516.8" font-size="11" fill="#04041c" textLength="34.2" lengthAdjust="spacingAndGlyphs">3 000K</text>
<text x="754" y="539.8" font-size="11" fill="#04041c" textLength="34.2" lengthAdjust="spacingAndGlyphs">2 000K</text>
<text x="754" y="561.8" font-size="11" fill="#04041c" textLength="34.2" lengthAdjust="spacingAndGlyphs">1 000K</text>
<text x="30.5" y="596" font-size="12" font-weight="bold" text-anchor="middle" fill="#04041c">oct.</text>
<text x="79.5" y="596" font-size="11" text-anchor="middle" fill="#04041c">11</text>
<text x="110.5" y="596" font-size="11" text-anchor="middle" fill="#04041c">18</text>
<text x="141.5" y="596" font-size="11" text-anchor="middle" fill="#04041c">25</text>
<text x="172.5" y="596" font-size="12" font-weight="bold" text-anchor="middle" fill="#04041c">nov.</text>
<text x="202.5" y="596" font-size="11" text-anchor="middle" fill="#04041c">08</text>
<text x="233.5" y="596" font-size="11" text-anchor="middle" fill="#04041c">15</text>
<text x="264.5" y="596" font-size="11" text-anchor="middle" fill="#04041c">22</text>
<text x="307.5" y="596" font-size="12" font-weight="bold" text-anchor="middle" fill="#04041c">déc.</text>
<text x="357.5" y="596" font-size="11" text-anchor="middle" fill="#04041c">13</text>
<text x="387.5" y="596" font-size="11" text-anchor="middle" fill="#04041c">20</text>
<text x="424.5" y="596" font-size="12" font-weight="bold" text-anchor="middle" fill="#04041c" textLength="28" lengthAdjust="spacingAndGlyphs">2013</text>
<text x="449.5" y="596" font-size="11" text-anchor="middle" fill="#04041c">08</text>
<text x="480.5" y="596" font-size="11" text-anchor="middle" fill="#04041c">15</text>
<text x="511.5" y="596" font-size="11" text-anchor="middle" fill="#04041c">22</text>
<text x="560.5" y="596" font-size="12" font-weight="bold" text-anchor="middle" fill="#04041c">févr.</text>
<text x="603.5" y="596" font-size="11" text-anchor="middle" fill="#04041c">12</text>
<text x="634.5" y="596" font-size="11" text-anchor="middle" fill="#04041c">19</text>
<text x="683.5" y="596" font-size="12" font-weight="bold" text-anchor="middle" fill="#04041c">mars</text>
<text x="726.5" y="596" font-size="11" text-anchor="middle" fill="#04041c">12</text>
<g shape-rendering="crispEdges">
<rect x="752" y="138" width="45" height="16" fill="#5f7f9f"/>
<rect x="753" y="139" width="43" height="14" fill="url(#yl)"/>
<rect x="752" y="521" width="37" height="16" fill="#5f7f9f"/>
<rect x="753" y="522" width="35" height="14" fill="#fbfbf0"/>
</g>
<text x="754" y="150" font-size="11" fill="#101000" textLength="41" lengthAdjust="spacingAndGlyphs">3 686,58</text>
<text x="754" y="533" font-size="11" fill="#1590dc" textLength="34.2" lengthAdjust="spacingAndGlyphs">2 318K</text>
<text x="638" y="57" font-size="12" font-weight="bold" fill="#000008" textLength="28" lengthAdjust="spacingAndGlyphs">3790</text>
<text x="632" y="101" font-size="12" font-weight="bold" fill="#000008" textLength="28" lengthAdjust="spacingAndGlyphs">3730</text>
<text x="620" y="203" font-size="12" font-weight="bold" fill="#000008" textLength="28" lengthAdjust="spacingAndGlyphs">3600</text>
<text x="626" y="248" font-size="12" font-weight="bold" fill="#000008" textLength="28" lengthAdjust="spacingAndGlyphs">3540</text>
<text x="620" y="398" font-size="12" font-weight="bold" fill="#000008" textLength="28" lengthAdjust="spacingAndGlyphs">3340</text>
<text x="3" y="32" font-size="11" fill="#465608" textLength="18.3" lengthAdjust="spacingAndGlyphs">Prix</text>
<text x="2.5" y="480.4" font-size="11" fill="#465608" textLength="94" lengthAdjust="spacingAndGlyphs">© ProRealTime.com</text>
<text x="3" y="498" font-size="11" fill="#1590dc">Volume</text>
<text x="23.5" y="15" font-size="11" font-weight="bold" fill="#0b3078" textLength="98.5" lengthAdjust="spacingAndGlyphs">PXI - CAC 40 INDEX</text>
<text x="134.5" y="15" font-size="11" font-weight="bold" fill="#0b3078" textLength="88" lengthAdjust="spacingAndGlyphs">3 686,58 (+0,99%)</text>
<text x="235.5" y="15" font-size="11" font-weight="bold" fill="#0b3078" textLength="54.5" lengthAdjust="spacingAndGlyphs">Journalier</text>
<text x="297.5" y="15" font-size="11" font-weight="bold" fill="#0b3078" textLength="66.5" lengthAdjust="spacingAndGlyphs">12 févr. 2013</text>
<text x="667" y="15" font-size="11.5" font-weight="bold" fill="#0b3078" textLength="129.5" lengthAdjust="spacingAndGlyphs">www.ProRealTime.com</text>
<g shape-rendering="crispEdges">
<rect x="6" y="8" width="1" height="11" fill="#c02020"/>
<rect x="3" y="10" width="7" height="7" fill="#c02020"/><rect x="4" y="11" width="5" height="5" fill="#f47070"/>
<rect x="14" y="3" width="1" height="16" fill="#1a8a1a"/>
<rect x="11" y="6" width="7" height="10" fill="#1a8a1a"/><rect x="12" y="7" width="5" height="8" fill="#70e070"/>
</g>
</svg>
</body></html>
